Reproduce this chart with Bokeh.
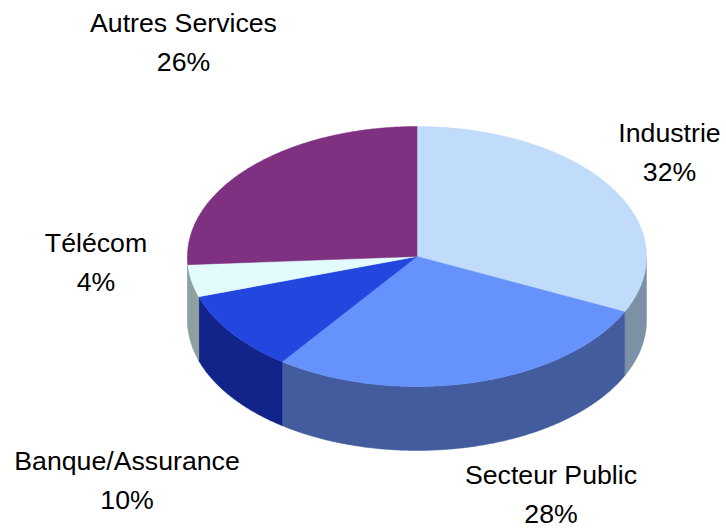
import numpy as np
from bokeh.plotting import figure
from bokeh.models import Range1d, ColumnDataSource
from bokeh.core.properties import value
from bokeh.embed import file_html
from bokeh.resources import INLINE

categories = ["Industrie", "Secteur Public", "Banque/Assurance", "Télécom", "Autres Services"]
shares = [32, 28, 10, 4, 26]
top_colors = ["#C1DBFB", "#6693FB", "#2346DE", "#E3FBFD", "#7D3180"]
wall_colors = ["#7C90A6", "#425C9E", "#12248A", "#8FA0A0", "#8FA0A0"]
label_x = [669, 550.5, 126.5, 95.5, 183]
label_y = [132.5, 474.5, 460.5, 242.5, 22.5]

W, H = 726, 528
CX, CY, RX, RY, DEPTH = 416.5, 256, 229.5, 130, 64
LINE_GAP = 38.5

p = figure(width=W, height=H, x_range=Range1d(0, W), y_range=Range1d(H, 0),
           output_backend="svg", toolbar_location=None, min_border=0,
           outline_line_color=None, background_fill_color="white", border_fill_color="white")
p.axis.visible = False
p.grid.visible = False

def arc(a0, a1, dy=0.0):
    t = np.radians(np.linspace(a0, a1, max(2, int(abs(a1 - a0) * 2) + 2)))
    return CX + RX * np.sin(t), CY + dy - RY * np.cos(t)

edges = np.cumsum([0] + shares) * 3.6

wall_xs, wall_ys, wall_c = [], [], []
for a0, a1, c in zip(edges[:-1], edges[1:], wall_colors):
    lo, hi = max(a0, 90), min(a1, 270)
    if hi <= lo:
        continue
    x0, y0 = arc(lo, hi)
    x1, y1 = arc(hi, lo, DEPTH)
    wall_xs.append(np.r_[x0, x1].tolist())
    wall_ys.append(np.r_[y0, y1].tolist())
    wall_c.append(c)
p.patches(wall_xs, wall_ys, fill_color=wall_c, line_color=wall_c, line_width=0.5)

top_xs, top_ys = [], []
for a0, a1 in zip(edges[:-1], edges[1:]):
    x, y = arc(a0, a1)
    top_xs.append(np.r_[CX, x].tolist())
    top_ys.append(np.r_[CY, y].tolist())
p.patches(top_xs, top_ys, fill_color=top_colors, line_color=top_colors, line_width=0.5)

src = ColumnDataSource(dict(
    x=label_x + label_x,
    y=label_y + [y + LINE_GAP for y in label_y],
    t=categories + [f"{s}%" for s in shares],
))
p.text("x", "y", text="t", source=src, text_font=value("Liberation Sans"),
       text_font_size="26.7px", text_color="#000000", text_align="center", text_baseline="middle")

open("out.html", "w").write(file_html(p, INLINE))
